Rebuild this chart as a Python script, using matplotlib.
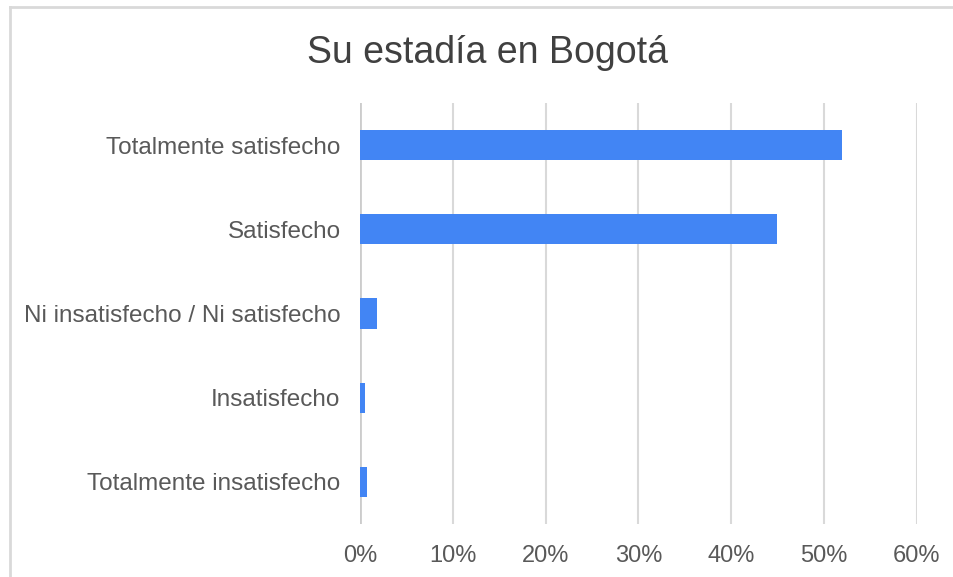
import matplotlib.pyplot as plt
from matplotlib.ticker import PercentFormatter
from matplotlib.lines import Line2D

categories = ["Totalmente satisfecho", "Satisfecho", "Ni insatisfecho / Ni satisfecho",
              "Insatisfecho", "Totalmente insatisfecho"]
shares = [0.519, 0.449, 0.018, 0.005, 0.007]
x_ticks = [0, 0.1, 0.2, 0.3, 0.4, 0.5, 0.6]

plt.rcParams['font.family'] = ['Liberation Sans', 'DejaVu Sans']
text_col = '#595959'

fig = plt.figure(figsize=(9.54, 5.77), dpi=100)
ax = fig.add_axes([0.3774, 0.0919, 0.9609 - 0.3774, 0.8215 - 0.0919])

ypos = list(range(len(categories)))
ax.barh(ypos, shares, height=0.36, color='#4285F4', zorder=3)
ax.set_ylim(len(categories) - 0.5, -0.5)
ax.set_xlim(0, 0.6)

ax.set_yticks(ypos)
ax.set_yticklabels(categories)
ax.set_xticks(x_ticks)
ax.xaxis.set_major_formatter(PercentFormatter(1.0, decimals=0))
ax.tick_params(axis='y', length=0, pad=14, labelsize=17.5, labelcolor=text_col)
ax.tick_params(axis='x', length=0, pad=15, labelsize=17, labelcolor=text_col)

ax.grid(axis='x', color='#d9d9d9', linewidth=1.5, zorder=0)
for s in ax.spines.values():
    s.set_visible(False)
ax.axvline(0, color='#cccccc', linewidth=2, zorder=2)

fig.text(0.511, 0.908, "Su estadía en Bogotá", ha='center', va='center',
         fontsize=27, color='#404040')

# chart frame, top and left edges
fig.add_artist(Line2D([0.0105, 1.0], [0.988, 0.988], transform=fig.transFigure,
                      color='#d9d9d9', linewidth=2))
fig.add_artist(Line2D([0.0105, 0.0105], [0.0, 0.988], transform=fig.transFigure,
                      color='#d9d9d9', linewidth=2))

fig.savefig('out.png', dpi=100)
